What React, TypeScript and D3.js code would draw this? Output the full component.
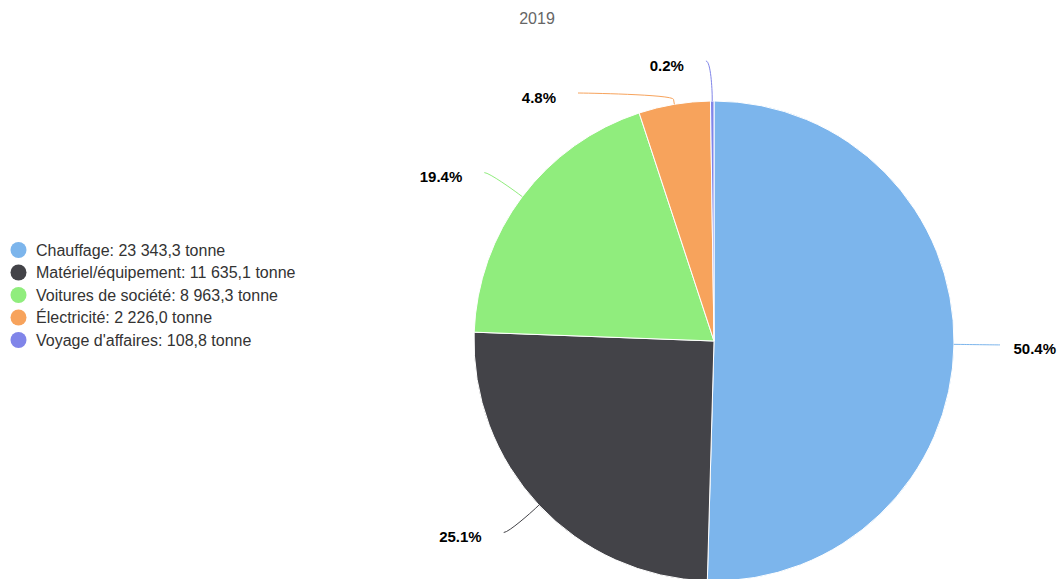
import React, { useEffect, useRef } from "react";
import * as d3 from "d3";

const title = "2019";
const categories = ["Chauffage", "Matériel/équipement", "Voitures de société", "Électricité", "Voyage d'affaires"];
const values = [23343.3, 11635.1, 8963.3, 2226.0, 108.8];
const colors = ["#7cb5ec", "#434348", "#90ed7d", "#f7a35c", "#8085e9"];
const unit = "tonne";

const W = 1058;
const H = 579;
const FONT = "'Liberation Sans', Arial, Helvetica, sans-serif";

export default function App() {
  const ref = useRef<SVGSVGElement | null>(null);

  useEffect(() => {
    const svg = d3.select(ref.current);
    svg.selectAll("*").remove();

    const cx = 714, cy = 341, r = 240;
    const labelR = r + 40;
    const pad = 6;
    const textGap = 22;
    const minGap = 32;

    const total = d3.sum(values);
    const fr = d3.formatLocale({ decimal: ",", thousands: " ", grouping: [3], currency: ["", ""] });
    const fmt = fr.format(",.1f");

    // title
    svg.append("text")
      .attr("x", 537).attr("y", 24)
      .attr("text-anchor", "middle")
      .attr("font-family", FONT).attr("font-size", 16).attr("fill", "#666666")
      .text(title);

    const data = categories.map((c, i) => ({ name: c, value: values[i], color: colors[i], index: i }));
    const pie = d3.pie<any>().sort(null).value((d: any) => d.value).startAngle(0).endAngle(2 * Math.PI);
    const arcs = pie(data);
    const arc = d3.arc<any>().innerRadius(0).outerRadius(r);

    const g = svg.append("g").attr("transform", `translate(${cx},${cy})`);
    g.selectAll("path.slice").data(arcs).enter().append("path")
      .attr("class", "slice")
      .attr("d", arc as any)
      .attr("fill", (d: any) => d.data.color)
      .attr("stroke", "#ffffff").attr("stroke-width", 1).attr("stroke-linejoin", "round");

    // label layout (Highcharts-like)
    type L = { d: any; mid: number; side: number; natY: number; y: number; x: number };
    const labels: L[] = arcs.map((a: any) => {
      const mid = (a.startAngle + a.endAngle) / 2;
      const side = Math.sin(mid) >= 0 ? 1 : -1;
      const natY = cy - labelR * Math.cos(mid);
      return { d: a, mid, side, natY, y: natY, x: 0 };
    });
    const top = cy - labelR, bottom = cy + labelR;
    [1, -1].forEach((side) => {
      const ls = labels.filter((l) => l.side === side).sort((a, b) => a.natY - b.natY);
      let prev = -Infinity;
      ls.forEach((l) => {
        let y = Math.max(top, Math.min(bottom, l.natY));
        if (y < prev + minGap) y = prev + minGap;
        l.y = y;
        prev = y;
      });
    });
    labels.forEach((l) => {
      const atBound = Math.abs(l.y - top) < 0.5 || Math.abs(l.y - bottom) < 0.5;
      if (atBound) {
        l.x = cx + labelR * Math.sin(l.mid) + l.side * pad;
      } else {
        const dy = l.y - cy;
        l.x = cx + l.side * (Math.sqrt(Math.max(0, labelR * labelR - dy * dy)) + pad);
      }
    });

    const lg = svg.append("g");
    labels.forEach((l) => {
      const tx = cx + r * Math.sin(l.mid), ty = cy - r * Math.cos(l.mid);
      const bx = cx + (r + 5) * Math.sin(l.mid), by = cy - (r + 5) * Math.cos(l.mid);
      const p = d3.path();
      p.moveTo(l.x, l.y);
      p.bezierCurveTo(l.x - l.side * 5, l.y, 2 * bx - tx, 2 * by - ty, bx, by);
      p.lineTo(tx, ty);
      lg.append("path").attr("d", p.toString())
        .attr("fill", "none").attr("stroke", l.d.data.color).attr("stroke-width", 1);

      const pct = ((l.d.data.value / total) * 100).toFixed(1) + "%";
      const t = lg.append("text")
        .attr("font-family", FONT).attr("font-size", 15).attr("font-weight", "bold")
        .attr("fill", "#000000")
        .attr("y", l.y + 9.5)
        .text(pct);
      if (l.side < 0) {
        t.attr("text-anchor", "end").attr("x", l.x - textGap);
      } else {
        t.attr("text-anchor", "start").attr("x", l.x + textGap);
        const node = t.node() as SVGTextElement;
        const w = node.getComputedTextLength();
        const maxX = W - 2;
        if (l.x + textGap + w > maxX) t.attr("x", maxX - w);
      }
    });

    // legend
    const leg = svg.append("g");
    const rowY = d3.scaleLinear().domain([0, 1]).range([250, 272.5]);
    data.forEach((d, i) => {
      const y = rowY(i);
      leg.append("circle").attr("cx", 18.5).attr("cy", y).attr("r", 8).attr("fill", d.color);
      leg.append("text")
        .attr("x", 36).attr("y", y + 5.6)
        .attr("font-family", FONT).attr("font-size", 16).attr("fill", "#333333")
        .text(`${d.name}: ${fmt(d.value)} ${unit}`);
    });
  }, []);

  return (
    <svg
      ref={ref}
      width={W}
      height={H}
      style={{ position: "absolute", left: 0, top: 0, background: "#ffffff" }}
    />
  );
}
